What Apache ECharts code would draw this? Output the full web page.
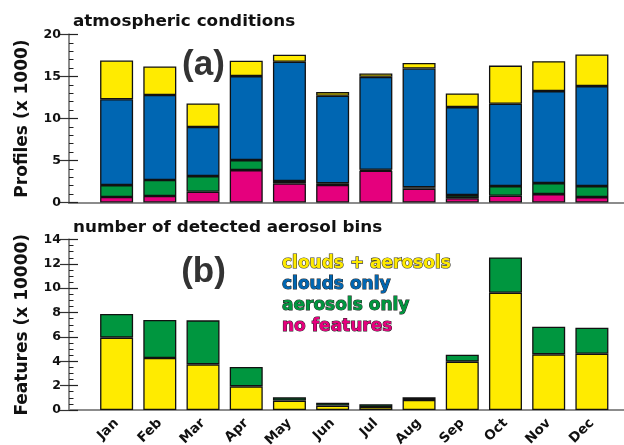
<!DOCTYPE html>
<html><head><meta charset="utf-8">
<script src="https://cdn.jsdelivr.net/npm/echarts@6/dist/echarts.min.js"></script>
<style>html,body{margin:0;padding:0;background:#fff}#c{width:624px;height:445px}</style>
</head><body><div id="c"></div>
<script>
const months = ['Jan','Feb','Mar','Apr','May','Jun','Jul','Aug','Sep','Oct','Nov','Dec'];
// panel (a): profiles (x 1000), stacked bottom -> top
const noFeatures     = [0.65, 0.78, 1.28, 3.86, 2.28, 2.08, 3.78, 1.65, 0.52, 0.80, 1.00, 0.64];
const aerosolsOnly   = [1.42, 1.89, 1.86, 1.19, 0.27, 0.22, 0.12, 0.17, 0.36, 1.15, 1.31, 1.31];
const cloudsOnly     = [10.23, 10.13, 5.84, 10.00, 14.20, 10.40, 11.06, 14.13, 10.48, 9.80, 10.95, 11.91];
const cloudsAerosols = [4.60, 3.40, 2.82, 1.82, 0.85, 0.44, 0.40, 0.65, 1.62, 4.55, 3.57, 3.76];
// panel (b): aerosol bins (x 10000)
const binsCloudsAerosols = [5.94, 4.27, 3.75, 1.94, 0.77, 0.36, 0.25, 0.82, 3.97, 9.63, 4.57, 4.62];
const binsAerosolsOnly   = [1.94, 3.12, 3.61, 1.59, 0.27, 0.24, 0.22, 0.22, 0.57, 2.90, 2.27, 2.14];
const ticksA = {min: 0, max: 20, interval: 5};
const ticksB = {min: 0, max: 14, interval: 2};

const C = {yellow:'#FFEB00', blue:'#0066B2', green:'#00963F', magenta:'#E5007D'};
const FONT = 'DejaVu Sans';
const frameLeft = 69, frameWidth = 562;
const dataLeft = 95, dataWidth = 518.5;
const gA = {top: 34.5, height: 168};
const gB = {top: 239.5, height: 170.5};

function frameX(gi, pos){
  return {type:'value', gridIndex: gi, min:0, max:1, position: pos,
    axisLine:{show:true, lineStyle:{color:'#8c8c8c', width:2}},
    axisTick:{show:false}, axisLabel:{show:false}, splitLine:{show:false}};
}
function frameY(gi, t, minorSplit, name, gap){
  return {type:'value', gridIndex: gi, min:t.min, max:t.max, interval:t.interval, position:'left',
    name: name, nameLocation:'middle', nameGap: gap, nameRotate: 90,
    nameTextStyle:{fontFamily:FONT, fontWeight:'bold', fontSize:17, color:'#111'},
    axisLine:{show:true, lineStyle:{color:'#222', width:1.5}},
    axisTick:{show:true, inside:true, length:9, lineStyle:{color:'#222', width:1.2}},
    minorTick:{show:true, splitNumber:minorSplit, length:4.5, lineStyle:{color:'#222', width:1}},
    axisLabel:{margin:8, fontFamily:FONT, fontWeight:'bold', fontSize:12.5, color:'#111'},
    splitLine:{show:false}, minorSplitLine:{show:false}};
}
function frameYRight(gi, t){
  return {type:'value', gridIndex: gi, min:t.min, max:t.max, interval:t.interval, position:'right',
    axisLine:{show:true, lineStyle:{color:'#8c8c8c', width:2}},
    axisTick:{show:true, inside:true, length:9, lineStyle:{color:'#333', width:1.2}},
    axisLabel:{show:false}, splitLine:{show:false}};
}
function dataX(gi, showLabels){
  return {type:'category', gridIndex: gi, data: months,
    axisLine:{show:false}, axisTick:{show:false},
    axisLabel:{show:showLabels, rotate:45, margin:11, interval:0, fontFamily:FONT, fontWeight:'bold', fontSize:13.5, color:'#111'}};
}
function dataY(gi, t){
  return {type:'value', gridIndex: gi, min:t.min, max:t.max, show:false, splitLine:{show:false}};
}
function bar(name, data, color, xi, yi, stack){
  return {type:'bar', name, data, stack, xAxisIndex: xi, yAxisIndex: yi, barWidth: 33,
    itemStyle:{color, borderColor:'#111', borderWidth:1.3}, emphasis:{disabled:true}};
}
function grid(left, width, g){
  return {left, width, top:g.top, height:g.height, containLabel:false, outerBoundsMode:'none'};
}

const option = {
  animation:false,
  grid:[
    grid(frameLeft, frameWidth, gA),
    grid(dataLeft, dataWidth, gA),
    grid(frameLeft, frameWidth, gB),
    grid(dataLeft, dataWidth, gB)
  ],
  xAxis:[
    frameX(0,'bottom'), frameX(0,'top'), dataX(1,false),
    frameX(2,'bottom'), frameX(2,'top'), dataX(3,true)
  ],
  yAxis:[
    frameY(0, ticksA, 5, 'Profiles (x 1000)', 38), frameYRight(0, ticksA), dataY(1, ticksA),
    frameY(2, ticksB, 4, 'Features (x 10000)', 38), frameYRight(2, ticksB), dataY(3, ticksB)
  ],
  series:[
    bar('no features', noFeatures, C.magenta, 2, 2, 'a'),
    bar('aerosols only', aerosolsOnly, C.green, 2, 2, 'a'),
    bar('clouds only', cloudsOnly, C.blue, 2, 2, 'a'),
    bar('clouds + aerosols', cloudsAerosols, C.yellow, 2, 2, 'a'),
    bar('clouds + aerosols', binsCloudsAerosols, C.yellow, 5, 5, 'b'),
    bar('aerosols only', binsAerosolsOnly, C.green, 5, 5, 'b')
  ],
  graphic:[
    {type:'text', x:73, y:22, scaleX:1.12, style:{text:'atmospheric conditions', font:'bold 15px "DejaVu Sans"', fill:'#111', verticalAlign:'middle'}},
    {type:'text', x:73, y:228, scaleX:1.12, style:{text:'number of detected aerosol bins', font:'bold 15px "DejaVu Sans"', fill:'#111', verticalAlign:'middle'}},
    {type:'text', x:203.5, y:65, style:{text:'(a)', font:'bold 35px "Liberation Sans"', fill:'#333', align:'center', verticalAlign:'middle'}},
    {type:'text', x:203.5, y:272, style:{text:'(b)', font:'bold 35px "Liberation Sans"', fill:'#333', align:'center', verticalAlign:'middle'}},
    {type:'text', x:282, y:264, style:{text:'clouds + aerosols', font:'bold 17px "DejaVu Sans"', fill:C.yellow, stroke:'#333', lineWidth:1.2, verticalAlign:'middle'}},
    {type:'text', x:282, y:285, style:{text:'clouds only', font:'bold 17px "DejaVu Sans"', fill:C.blue, stroke:'#222', lineWidth:1, verticalAlign:'middle'}},
    {type:'text', x:282, y:306, style:{text:'aerosols only', font:'bold 17px "DejaVu Sans"', fill:C.green, stroke:'#222', lineWidth:1, verticalAlign:'middle'}},
    {type:'text', x:282, y:327, style:{text:'no features', font:'bold 17px "DejaVu Sans"', fill:C.magenta, stroke:'#222', lineWidth:1, verticalAlign:'middle'}}
  ]
};
echarts.init(document.getElementById('c'), null, {renderer:'canvas'}).setOption(option);
</script></body></html>
